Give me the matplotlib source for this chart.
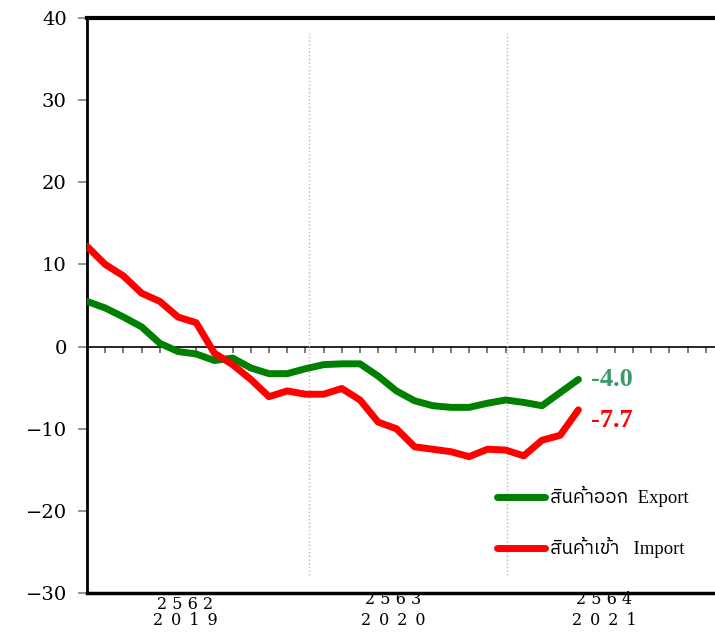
import matplotlib
matplotlib.use("Agg")
import matplotlib.pyplot as plt
from matplotlib import font_manager
from matplotlib.font_manager import FontProperties
import numpy as np

# monthly growth (%YoY), Jan 2019 .. Apr 2021
MONTHS = np.arange(28)
EXPORT = [5.5, 4.7, 3.6, 2.4, 0.4, -0.6, -0.9, -1.7, -1.4, -2.6,
          -3.3, -3.3, -2.7, -2.2, -2.1, -2.1, -3.6, -5.4, -6.6, -7.2,
          -7.4, -7.4, -6.9, -6.5, -6.8, -7.2, -5.6, -4.0]
IMPORT = [12.2, 10.0, 8.6, 6.5, 5.5, 3.6, 2.9, -0.8, -2.2, -4.0,
          -6.1, -5.4, -5.8, -5.8, -5.1, -6.5, -9.2, -10.0, -12.2, -12.5,
          -12.8, -13.4, -12.5, -12.6, -13.3, -11.4, -10.8, -7.7]
EXPORT_LABEL = "สินค้าออก  Export"
IMPORT_LABEL = "สินค้าเข้า   Import"
THAI_YEARS = ["2 5 6 2", "2 5 6 3", "2 5 6 4"]
AD_YEARS = ["2\u20020\u20021\u20029", "2\u20020\u20022\u20020", "2\u20020\u20022\u20021"]
YEAR_POS = [5.4, 16.8, 28.4]
SEPARATORS = [12.2, 23.1]
YTICKS = [-30, -20, -10, 0, 10, 20, 30, 40]

# look for an installed font with Thai glyphs
thai_known = ("Loma", "Garuda", "Norasi", "Kinnari", "Waree", "Umpush",
              "Sawasdee", "Tlwg Typo", "Laksaman", "Purisa")
thai_fonts = sorted({f.name for f in font_manager.fontManager.ttflist
                     if "Thai" in f.name or f.name in thai_known})
legend_family = ["Liberation Serif"] + thai_fonts[:1] + ["DejaVu Sans"]

fig = plt.figure(figsize=(7.15, 6.34), dpi=100)
W, H = 715, 634
ax = fig.add_axes([87 / W, 1 - 593 / H, 637 / W, 575 / H])

ax.plot(MONTHS, EXPORT, color="#008000", lw=5, solid_capstyle="round",
        solid_joinstyle="round", label=EXPORT_LABEL, zorder=3)
ax.plot(MONTHS, IMPORT, color="#ff0000", lw=5, solid_capstyle="round",
        solid_joinstyle="round", label=IMPORT_LABEL, zorder=3)

ax.vlines(SEPARATORS, -27.8, 38.2, colors="#b8b8b8", linestyles=":", lw=1, zorder=1)

ax.set_xlim(0, 35)
ax.set_ylim(-30, 40)

ax.spines["right"].set_visible(False)
ax.spines["top"].set_linewidth(3)
ax.spines["left"].set_linewidth(2)
ax.spines["bottom"].set_linewidth(2.5)

ax.set_yticks(YTICKS)
ax.tick_params(axis="y", direction="out", length=6.5, width=1.2, color="#808080",
               labelsize=14, pad=8)
for lab in ax.get_yticklabels():
    lab.set_family("DejaVu Serif")

ax.set_xticks([])

# zero line with monthly ticks
zero = ax.secondary_xaxis(30 / 70)
zero.set_xticks(np.arange(1, 35))
zero.tick_params(direction="out", length=4.5, width=1.3, color="#707070", labelbottom=False)
zero.spines["bottom"].set_linewidth(1.2)

for i, (xp, ty, ay) in enumerate(zip(YEAR_POS, THAI_YEARS, AD_YEARS)):
    ax.annotate(ty, xy=(xp, 0), xycoords=("data", "axes fraction"),
                xytext=(0, -8 if i == 0 else -5), textcoords="offset points",
                ha="center", va="center", fontsize=11.5, family="DejaVu Serif")
    ax.annotate(ay, xy=(xp, 0), xycoords=("data", "axes fraction"),
                xytext=(0, -20), textcoords="offset points", ha="center", va="center",
                fontsize=11.5, family="DejaVu Serif")

ax.annotate(f"{EXPORT[-1]:.1f}", xy=(MONTHS[-1], EXPORT[-1]), xytext=(9, 0),
            textcoords="offset points", ha="left", va="center", fontsize=19,
            fontweight="bold", family="Liberation Serif", color="#3a9a6c")
ax.annotate(f"{IMPORT[-1]:.1f}", xy=(MONTHS[-1], IMPORT[-1]), xytext=(9, -8),
            textcoords="offset points", ha="left", va="center", fontsize=19,
            fontweight="bold", family="Liberation Serif", color="#ff0000")

leg = ax.legend(loc="center left", bbox_to_anchor=(0.643, 0.123), frameon=False,
                prop=FontProperties(family=legend_family, size=13.5),
                handlelength=2.6, handletextpad=0.25, labelspacing=1.6,
                borderpad=0, borderaxespad=0)
for h in leg.get_lines():
    h.set_solid_capstyle("round")

fig.savefig("out.png", dpi=100)
